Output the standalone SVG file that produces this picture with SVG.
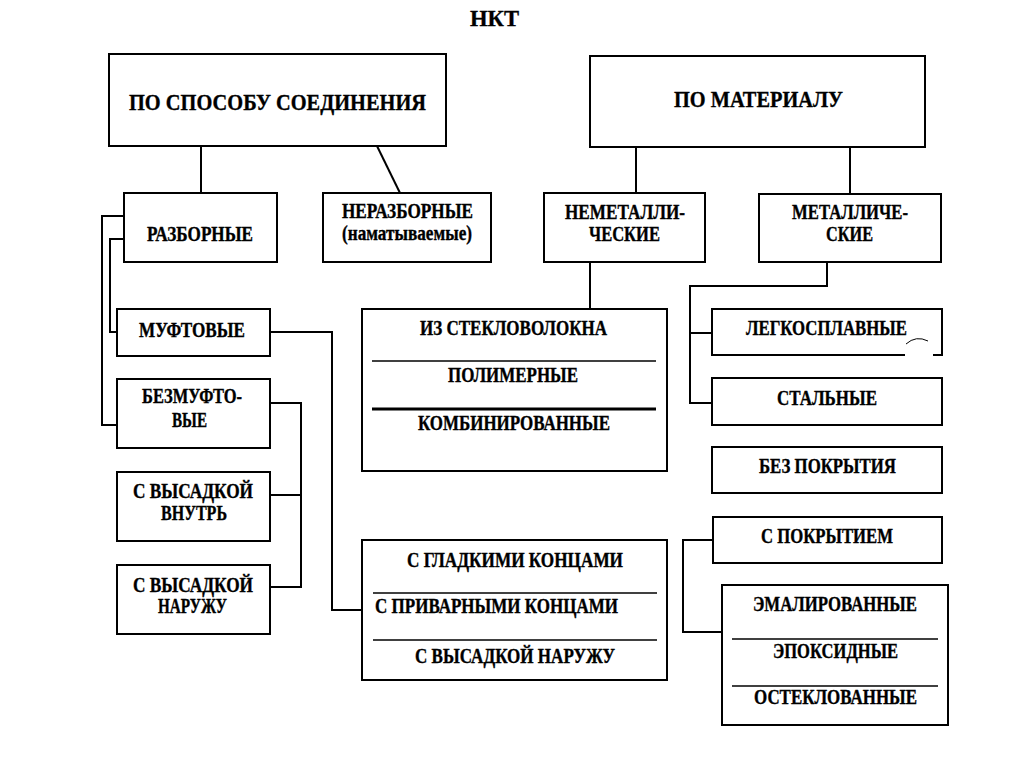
<svg xmlns="http://www.w3.org/2000/svg" width="1024" height="767" viewBox="0 0 1024 767">
<style>
.bg{fill:#ffffff}
.box{fill:#ffffff;stroke:#000;stroke-width:2}
.ln{fill:none;stroke:#000;stroke-width:2}
.div{stroke:#000;stroke-width:1.6}
.thick{stroke:#000;stroke-width:2.8}
.art{fill:none;stroke:#000;stroke-width:1}
text{font-family:"Liberation Serif","Times New Roman",serif;font-weight:bold;fill:#000;stroke:#000;stroke-width:0.35;text-anchor:middle}
.t{font-size:20px}
.big{font-size:24px}
</style>
<rect class="bg" x="0" y="0" width="1024" height="767"/>
<text class="big" x="494.5" y="26" font-size="25" textLength="49" lengthAdjust="spacingAndGlyphs">НКТ</text>

<g id="connectors">
<path class="ln" d="M201,146 V193"/>
<path class="ln" d="M377,146 L400,193"/>
<path class="ln" d="M636,147 V193"/>
<path class="ln" d="M850,147 V194"/>
<path class="ln" d="M124,216 H102 V425 H117"/>
<path class="ln" d="M124,239 H110 V332 H117"/>
<path class="ln" d="M270,332 H332 V610 H362"/>
<path class="ln" d="M270,403 H301 V587 H270"/>
<path class="ln" d="M270,495 H301"/>
<path class="ln" d="M590,262 V309"/>
<path class="ln" d="M827,262 V286 H690 V403 H712"/>
<path class="ln" d="M690,333 H712"/>
<path class="ln" d="M713,540 H683 V632 H722"/>
</g>

<g id="n-sposob">
<rect class="box" x="109" y="54" width="337" height="92"/>
<text class="big" x="277.5" y="110" textLength="297" lengthAdjust="spacingAndGlyphs">ПО СПОСОБУ СОЕДИНЕНИЯ</text>
</g>
<g id="n-material">
<rect class="box" x="590" y="56" width="335" height="91"/>
<text class="big" x="758.5" y="107" textLength="169" lengthAdjust="spacingAndGlyphs">ПО МАТЕРИАЛУ</text>
</g>
<g id="n-razbornye">
<rect class="box" x="124" y="193" width="153" height="69"/>
<text class="t" x="200" y="241" textLength="106" lengthAdjust="spacingAndGlyphs">РАЗБОРНЫЕ</text>
</g>
<g id="n-nerazbornye">
<rect class="box" x="323" y="193" width="168" height="69"/>
<text class="t" x="407.5" y="218" textLength="131" lengthAdjust="spacingAndGlyphs">НЕРАЗБОРНЫЕ</text>
<text class="t" x="407" y="240" textLength="130" lengthAdjust="spacingAndGlyphs">(наматываемые)</text>
</g>
<g id="n-nemetall">
<rect class="box" x="544" y="193" width="161" height="69"/>
<text class="t" x="625" y="219" textLength="120" lengthAdjust="spacingAndGlyphs">НЕМЕТАЛЛИ-</text>
<text class="t" x="624.5" y="241" textLength="71" lengthAdjust="spacingAndGlyphs">ЧЕСКИЕ</text>
</g>
<g id="n-metall">
<rect class="box" x="759" y="194" width="182" height="68"/>
<text class="t" x="850" y="219" textLength="116" lengthAdjust="spacingAndGlyphs">МЕТАЛЛИЧЕ-</text>
<text class="t" x="849.5" y="241" textLength="47" lengthAdjust="spacingAndGlyphs">СКИЕ</text>
</g>
<g id="n-muftovye">
<rect class="box" x="117" y="309" width="153" height="47"/>
<text class="t" x="192" y="337" textLength="106" lengthAdjust="spacingAndGlyphs">МУФТОВЫЕ</text>
</g>
<g id="n-bezmuftovye">
<rect class="box" x="117" y="379" width="153" height="69"/>
<text class="t" x="192" y="403" textLength="100" lengthAdjust="spacingAndGlyphs">БЕЗМУФТО-</text>
<text class="t" x="189.5" y="427" textLength="35" lengthAdjust="spacingAndGlyphs">ВЫЕ</text>
</g>
<g id="n-vysadka-vnutr">
<rect class="box" x="117" y="472" width="153" height="69"/>
<text class="t" x="193" y="498" textLength="120" lengthAdjust="spacingAndGlyphs">С ВЫСАДКОЙ</text>
<text class="t" x="194" y="520" textLength="66" lengthAdjust="spacingAndGlyphs">ВНУТРЬ</text>
</g>
<g id="n-vysadka-naruzhu">
<rect class="box" x="117" y="565" width="153" height="69"/>
<text class="t" x="193" y="592" textLength="120" lengthAdjust="spacingAndGlyphs">С ВЫСАДКОЙ</text>
<text class="t" x="192.5" y="613" textLength="69" lengthAdjust="spacingAndGlyphs">НАРУЖУ</text>
</g>
<g id="n-steklo">
<rect class="box" x="362" y="309" width="305" height="162"/>
<text class="t" x="513.5" y="335" textLength="187" lengthAdjust="spacingAndGlyphs">ИЗ СТЕКЛОВОЛОКНА</text>
<line class="div" x1="372" y1="361" x2="656" y2="361"/>
<text class="t" x="513" y="382" textLength="130" lengthAdjust="spacingAndGlyphs">ПОЛИМЕРНЫЕ</text>
<line class="thick" x1="372" y1="409" x2="656" y2="409"/>
<text class="t" x="514" y="430" textLength="192" lengthAdjust="spacingAndGlyphs">КОМБИНИРОВАННЫЕ</text>
</g>
<g id="n-koncy">
<rect class="box" x="362" y="540" width="305" height="140"/>
<text class="t" x="515" y="567" textLength="216" lengthAdjust="spacingAndGlyphs">С ГЛАДКИМИ КОНЦАМИ</text>
<line class="div" x1="373" y1="593" x2="657" y2="593"/>
<text class="t" x="496.5" y="613" textLength="243" lengthAdjust="spacingAndGlyphs">С ПРИВАРНЫМИ КОНЦАМИ</text>
<line class="div" x1="373" y1="640" x2="657" y2="640"/>
<text class="t" x="515" y="663" textLength="200" lengthAdjust="spacingAndGlyphs">С ВЫСАДКОЙ НАРУЖУ</text>
</g>
<g id="n-legkosplavnye">
<path class="ln" d="M905,355 H712 V309 H942 V355 H933"/>
<path class="art" d="M906,344 Q916,335 928,341"/>
<text class="t" x="826.5" y="335" textLength="161" lengthAdjust="spacingAndGlyphs">ЛЕГКОСПЛАВНЫЕ</text>
</g>
<g id="n-stalnye">
<rect class="box" x="712" y="378" width="230" height="47"/>
<text class="t" x="827" y="405" textLength="100" lengthAdjust="spacingAndGlyphs">СТАЛЬНЫЕ</text>
</g>
<g id="n-bez-pokrytiya">
<rect class="box" x="712" y="447" width="230" height="46"/>
<text class="t" x="827.5" y="473" textLength="137" lengthAdjust="spacingAndGlyphs">БЕЗ ПОКРЫТИЯ</text>
</g>
<g id="n-s-pokrytiem">
<rect class="box" x="713" y="517" width="229" height="46"/>
<text class="t" x="827" y="543" textLength="132" lengthAdjust="spacingAndGlyphs">С ПОКРЫТИЕМ</text>
</g>
<g id="n-pokrytiya">
<rect class="box" x="722" y="585" width="226" height="140"/>
<text class="t" x="835" y="611" textLength="164" lengthAdjust="spacingAndGlyphs">ЭМАЛИРОВАННЫЕ</text>
<line class="div" x1="732" y1="639" x2="938" y2="639"/>
<text class="t" x="835.5" y="658" textLength="125" lengthAdjust="spacingAndGlyphs">ЭПОКСИДНЫЕ</text>
<line class="div" x1="732" y1="686" x2="938" y2="686"/>
<text class="t" x="835.5" y="704" textLength="163" lengthAdjust="spacingAndGlyphs">ОСТЕКЛОВАННЫЕ</text>
</g>
</svg>
